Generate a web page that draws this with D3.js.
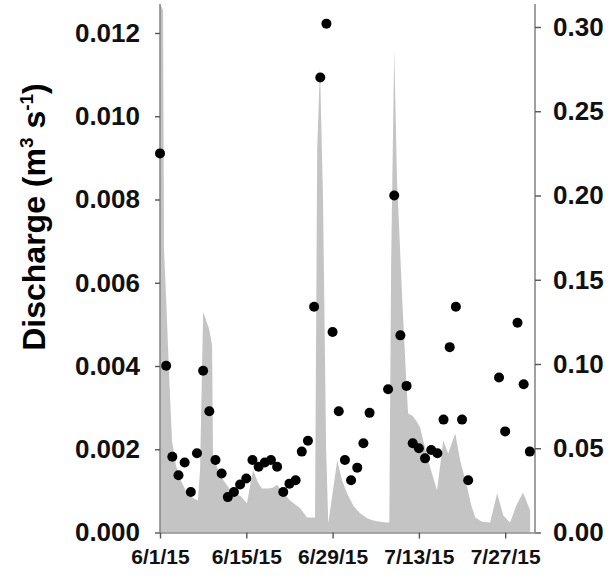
<!DOCTYPE html>
<html>
<head>
<meta charset="utf-8">
<script src="https://cdn.jsdelivr.net/npm/d3@7"></script>
<style>
  html, body { margin: 0; padding: 0; background: #fff; }
  svg { display: block; font-family: "Liberation Sans", Arial, sans-serif; }
</style>
</head>
<body>
<svg id="chart" width="610" height="578"></svg>
<script>
// ---- data ----
const startDate = "2015-06-01";
// discharge (gray area), days since start and values (m3 s-1)
const flowDays = [0, 0.5, 0.65, 1.0, 1.5, 1.95, 2.6, 3.4, 4.2, 5.2, 6.15, 6.5, 7.0, 7.95, 8.45, 8.6,
  9.75, 10.9, 12.0, 13.0, 14.1, 15.1, 15.9, 16.55, 17.55, 18.35, 19.0, 19.95, 21.1, 22.75, 23.85, 24.85,
  25.15, 25.5, 25.95, 26.45, 26.95, 27.3, 28.75, 29.55, 30.35, 31.35, 32.45, 33.6, 34.6, 35.7, 36.85,
  37.2, 37.5, 38.0, 38.45, 39.3, 39.95, 40.25, 40.9, 41.55, 42.2, 43.5, 44.95, 45.95, 46.75, 47.9,
  48.7, 49.85, 50.5, 51.15, 52.25, 53.55, 54.7, 55.7, 56.8, 57.8, 58.9, 60.05];
const flowValues = [0.0127, 0.01255, 0.0068, 0.0056, 0.0037, 0.0022, 0.0016, 0.00125, 0.001, 0.00084, 0.00077, 0.0015, 0.0053, 0.0049, 0.0045, 0.00185,
  0.00137, 0.00113, 0.00089, 0.00089, 0.0007, 0.0015, 0.0012, 0.00106, 0.00106, 0.00108, 0.00115, 0.00096, 0.00077, 0.00058, 0.00036, 0.00036,
  0.00036, 0.0092, 0.0112, 0.008, 0.002, 0.00022, 0.00173, 0.00125, 0.00094, 0.00065, 0.00046, 0.00034, 0.00029, 0.00026, 0.00024,
  0.00024, 0.0065, 0.0116, 0.0085, 0.0056, 0.00365, 0.00286, 0.00281, 0.00269, 0.00252, 0.00173, 0.00101, 0.00221, 0.0019, 0.00238,
  0.00173, 0.00108, 0.00065, 0.00036, 0.00026, 0.00024, 0.00094, 0.00041, 0.00024, 0.00065, 0.00096, 0.00053];
// black points (right axis), days since start and values
const pointDays = [0, 1, 2, 3, 4, 5, 6, 7, 8, 9, 10, 11, 12, 13, 14, 15, 16, 17, 18, 19, 20, 21, 22, 23, 24,
  25, 26, 27, 28, 29, 30, 31, 32, 33, 34, 37, 38, 39, 40, 41, 42, 43, 44, 45, 46, 47, 48, 49, 50,
  55, 56, 58, 59, 60];
const pointValues = [0.225, 0.099, 0.045, 0.034, 0.0415, 0.024, 0.047, 0.096, 0.072, 0.043, 0.035, 0.021, 0.024, 0.0285, 0.032, 0.043, 0.039, 0.0415, 0.043, 0.039, 0.024, 0.029, 0.031, 0.048, 0.0545,
  0.134, 0.270, 0.302, 0.119, 0.072, 0.043, 0.031, 0.0385, 0.053, 0.071, 0.085, 0.200, 0.117, 0.087, 0.053, 0.050, 0.044, 0.049, 0.047, 0.067, 0.110, 0.134, 0.067, 0.031,
  0.092, 0.060, 0.1245, 0.088, 0.048];
const leftTicks = [0, 0.002, 0.004, 0.006, 0.008, 0.010, 0.012];
const rightTicks = [0, 0.05, 0.10, 0.15, 0.20, 0.25, 0.30];
const xTickLabels = ["2015-06-01", "2015-06-15", "2015-06-29", "2015-07-13", "2015-07-27"];
const xDomain = ["2015-06-01", "2015-08-01"];

// ---- helpers ----
const parse = d3.utcParse("%Y-%m-%d");
const t0 = parse(startDate);
const dayToDate = d => new Date(t0.getTime() + d * 86400000);

const svg = d3.select("#chart");
const L = 160, R = 536, T = 4, B = 532.5;

const x = d3.scaleUtc().domain(xDomain.map(parse)).range([L, R]);
const yL = d3.scaleLinear().domain([0, 0.012]).range([B, 33]);
const yR = d3.scaleLinear().domain([0, 0.30]).range([B, 27]);

// clip to plot
svg.append("clipPath").attr("id", "clip")
  .append("rect").attr("x", L).attr("y", T).attr("width", R - L).attr("height", B - T);

const flow = flowDays.map((d, i) => ({ t: dayToDate(d), v: flowValues[i] }));
const area = d3.area().x(d => x(d.t)).y0(yL(0)).y1(d => yL(d.v));
svg.append("path").datum(flow)
  .attr("clip-path", "url(#clip)")
  .attr("d", area)
  .attr("fill", "#c4c4c4");

// axes
const axisColor = "#8a8a8a";
const tickColor = "#555";
function styleAxis(g, fs) {
  g.select(".domain").attr("stroke", axisColor).attr("stroke-width", 1.6);
  g.selectAll(".tick line").attr("stroke", tickColor).attr("stroke-width", 1.4);
  g.selectAll(".tick text").attr("fill", "#111").attr("font-size", fs).attr("font-weight", "bold")
    .attr("font-family", "'Liberation Sans', Arial, sans-serif");
}

const gL = svg.append("g").attr("transform", `translate(${L},0)`)
  .call(d3.axisLeft(yL).tickValues(leftTicks).tickFormat(d3.format(".3f")).tickSize(5).tickPadding(15).tickSizeOuter(0));
gL.select(".domain").attr("d", `M0,${B}V${T}`);
styleAxis(gL, 26);

const gR = svg.append("g").attr("transform", `translate(${R - 1},0)`)
  .call(d3.axisRight(yR).tickValues(rightTicks).tickFormat(d3.format(".2f")).tickSize(6).tickPadding(12).tickSizeOuter(0));
gR.select(".domain").attr("d", `M0,${B}V${T}`);
styleAxis(gR, 26);

const gX = svg.append("g").attr("transform", `translate(0,${B})`)
  .call(d3.axisBottom(x).tickValues(xTickLabels.map(parse)).tickFormat(d3.utcFormat("%-m/%-d/%y")).tickSize(6).tickPadding(11).tickSizeOuter(0));
styleAxis(gX, 21);

// points
const pts = pointDays.map((d, i) => ({ t: dayToDate(d), v: pointValues[i] }));
svg.append("g").selectAll("circle").data(pts).join("circle")
  .attr("cx", d => x(d.t)).attr("cy", d => yR(d.v)).attr("r", 5)
  .attr("fill", "#000");

// y title
const title = svg.append("text")
  .attr("transform", "translate(45,217) rotate(-90)")
  .attr("text-anchor", "middle")
  .attr("font-size", 32).attr("font-weight", "bold").attr("fill", "#000");
title.append("tspan").text("Discharge (m");
title.append("tspan").text("3").attr("font-size", 19).attr("dy", -12);
title.append("tspan").text(" s").attr("dy", 12);
title.append("tspan").text("-1").attr("font-size", 19).attr("dy", -12);
title.append("tspan").text(")").attr("dy", 12);
</script>
</body>
</html>
